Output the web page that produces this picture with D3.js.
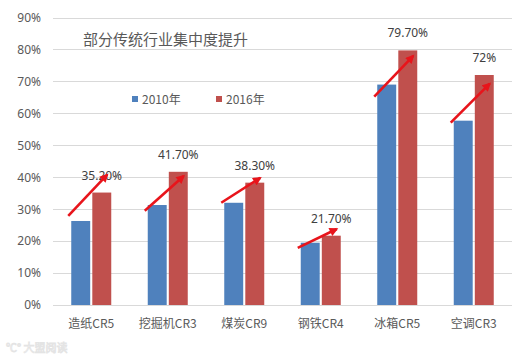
<!DOCTYPE html>
<html><head><meta charset="utf-8">
<script src="https://cdn.jsdelivr.net/npm/d3@7"></script>
<style>
html,body{margin:0;padding:0;background:#fff;}
svg{display:block;font-family:"Noto Sans CJK SC","Noto Sans",sans-serif;}
</style></head>
<body><svg id="chart" width="529" height="360"></svg>
<script>
const categories = ["造纸CR5","挖掘机CR3","煤炭CR9","钢铁CR4","冰箱CR5","空调CR3"];
const seriesNames = ["2010年","2016年"];
const values2010 = [0.263, 0.313, 0.320, 0.195, 0.690, 0.577];
const values2016 = [0.352, 0.417, 0.383, 0.217, 0.797, 0.720];
const dataLabels = ["35.20%","41.70%","38.30%","21.70%","79.70%","72%"];
const arrowFrom = [0.279, 0.295, 0.320, 0.179, 0.652, 0.571];
const arrowTo   = [0.408, 0.404, 0.398, 0.238, 0.780, 0.693];
const yTicks = [0,0.1,0.2,0.3,0.4,0.5,0.6,0.7,0.8,0.9];
const title = "部分传统行业集中度提升";
const colors = ["#4f81bd","#c0504d"];

(function(){
const svg = d3.select("#chart");
const mLeft = 53, mRight = 512, mTop = 17.5, mBottom = 305;
const textColor = "#595959";

const x = d3.scaleBand().domain(categories).range([mLeft, mRight]).paddingInner(0).paddingOuter(0);
const groupW = 40;
const x1 = d3.scaleBand().domain(seriesNames).range([0, groupW]).paddingInner(0.1);
const y = d3.scaleLinear().domain([0, 0.9]).range([mBottom, mTop]);

// grid
svg.append("g").selectAll("line").data(yTicks).join("line")
  .attr("x1", mLeft).attr("x2", mRight)
  .attr("y1", d => Math.round(y(d)) + 0.5).attr("y2", d => Math.round(y(d)) + 0.5)
  .attr("stroke", "#d9d9d9").attr("stroke-width", 1);

// y axis labels
const yAxis = d3.axisLeft(y).tickValues(yTicks).tickFormat(d3.format(".0%")).tickSize(0).tickPadding(0);
const ya = svg.append("g").attr("transform", `translate(41,0)`).call(yAxis);
ya.select(".domain").remove();
ya.selectAll("text").attr("fill", textColor).style("font-size", "12px")
  .style("font-family", '"Noto Sans","Noto Sans CJK SC",sans-serif');

// x axis labels
const xAxis = d3.axisBottom(x).tickSize(0).tickPadding(0);
const xa = svg.append("g").attr("transform", `translate(0,${mBottom + 14})`).call(xAxis);
xa.select(".domain").remove();
xa.selectAll("text").attr("fill", textColor).style("font-size", "12px")
  .style("font-family", '"Noto Sans CJK SC",sans-serif');

// bars
const series = [values2010, values2016];
const gx = c => x(c) + x.bandwidth() / 2 - groupW / 2;
series.forEach((vals, si) => {
  svg.append("g").selectAll("rect").data(categories).join("rect")
    .attr("x", c => gx(c) + x1(seriesNames[si]))
    .attr("width", x1.bandwidth())
    .attr("y", (c, i) => y(vals[i]))
    .attr("height", (c, i) => y(0) - y(vals[i]))
    .attr("fill", colors[si]);
});

// data labels above 2016 bars
svg.append("g").selectAll("text").data(categories).join("text")
  .attr("x", c => gx(c) + x1(seriesNames[1]) + x1.bandwidth() / 2)
  .attr("y", (c, i) => y(values2016[i]) - 13)
  .attr("text-anchor", "middle")
  .attr("fill", "#404040").style("font-size", "12px")
  .style("font-family", '"Noto Sans",sans-serif')
  .text((c, i) => dataLabels[i]);

// arrows
const defs = svg.append("defs");
defs.append("marker").attr("id", "ah").attr("viewBox", "0 0 10 10")
  .attr("refX", 8).attr("refY", 5).attr("markerWidth", 4).attr("markerHeight", 3.4)
  .attr("orient", "auto").attr("markerUnits", "strokeWidth")
  .append("path").attr("d", "M0,0 L10,5 L0,10 z").attr("fill", "#e8141b");
svg.append("g").selectAll("line").data(categories).join("line")
  .attr("x1", c => gx(c) - 3)
  .attr("y1", (c, i) => y(arrowFrom[i]))
  .attr("x2", c => gx(c) + groupW - 4)
  .attr("y2", (c, i) => y(arrowTo[i]))
  .attr("stroke", "#e8141b").attr("stroke-width", 2.6)
  .attr("marker-end", "url(#ah)");

// title
svg.append("text").attr("x", 83).attr("y", 45).attr("fill", textColor)
  .style("font-size", "15px").text(title);

// legend
const legendX = [132, 216];
seriesNames.forEach((n, i) => {
  svg.append("rect").attr("x", legendX[i]).attr("y", 96).attr("width", 6).attr("height", 6).attr("fill", colors[i]);
  svg.append("text").attr("x", legendX[i] + 10).attr("y", 103.5).attr("fill", textColor)
    .style("font-size", "12px").text(n);
});

// watermark
svg.append("text").attr("x", 6).attr("y", 352).attr("fill", "none")
  .attr("stroke", "#e4e4e4").attr("stroke-width", 0.8)
  .style("font-size", "11px").text("℃° 大盟阅读");
})();
</script></body></html>
